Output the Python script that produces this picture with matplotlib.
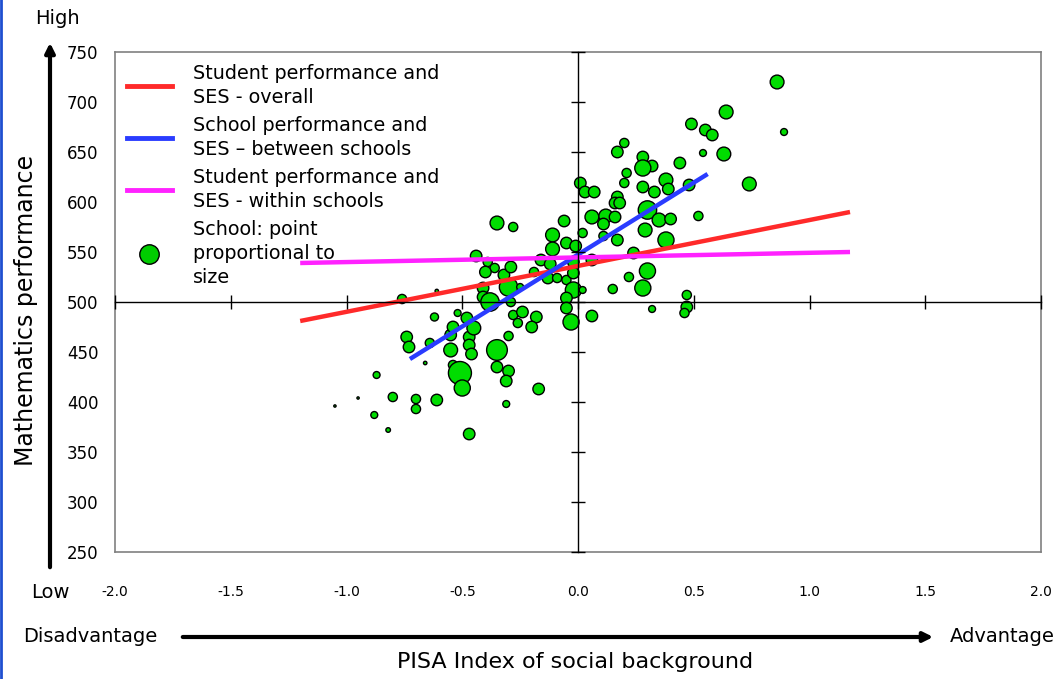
import matplotlib
matplotlib.use("Agg")
import matplotlib.pyplot as plt
from matplotlib.lines import Line2D
from matplotlib.patches import FancyArrowPatch

# ---------------- data ----------------
ses = [-1.05, -0.95, -0.87, -0.88, -0.82, -0.80, -0.70, -0.70, -0.61, -0.66,
       -0.47, -0.74, -0.73, -0.64, -0.55, -0.54, -0.55, -0.47, -0.47, -0.46,
       -0.54, -0.51, -0.50, -0.35, -0.35, -0.30, -0.31, -0.31, -0.17, -0.30,
       -0.52, -0.62, -0.76, -0.61, -0.48, -0.45, -0.44, -0.39, -0.36, -0.40,
       -0.41, -0.41, -0.38, -0.30, -0.25, -0.32, -0.29, -0.29, -0.28, -0.26,
       -0.24, -0.18, -0.20, -0.16, -0.12, -0.13, -0.19, -0.35, -0.28, -0.11,
       -0.11, -0.06, -0.05, -0.01, 0.02, -0.09, -0.05, -0.02, -0.02, 0.02,
       -0.05, -0.05, -0.03, 0.06, 0.01, 0.03, 0.07, 0.06, 0.12, 0.16,
       0.11, 0.17, 0.16, 0.18, 0.20, 0.17, 0.28, 0.32, 0.28, 0.21,
       0.20, 0.28, 0.33, 0.38, 0.39, 0.48, 0.30, 0.35, 0.40, 0.52,
       0.29, 0.11, 0.17, 0.38, 0.24, 0.06, -0.02, 0.30, 0.22, 0.28,
       0.15, 0.47, 0.47, 0.46, 0.32, 0.86, 0.89, 0.64, 0.49, 0.55,
       0.58, 0.54, 0.63, 0.44, 0.74]
maths = [396, 404, 427, 387, 372, 405, 403, 393, 402, 439,
         368, 465, 455, 459, 467, 475, 452, 465, 457, 448,
         437, 429, 414, 452, 435, 431, 421, 398, 413, 466,
         489, 485, 503, 511, 484, 474, 546, 540, 534, 530,
         514, 505, 500, 515, 515, 527, 535, 500, 487, 479,
         490, 485, 475, 542, 538, 524, 530, 579, 575, 567,
         553, 581, 559, 556, 569, 524, 522, 529, 512, 512,
         504, 494, 480, 486, 619, 610, 610, 585, 586, 585,
         578, 605, 599, 599, 659, 650, 645, 636, 634, 629,
         619, 615, 610, 622, 613, 617, 592, 582, 583, 586,
         572, 566, 562, 562, 549, 542, 540, 531, 525, 514,
         513, 507, 495, 489, 493, 720, 670, 690, 678, 672,
         667, 649, 648, 639, 618]
school_size = [1, 1, 3, 3, 2, 4, 4, 4, 5, 1.5,
               5, 5, 5, 4, 5, 5, 6, 5, 5, 5,
               4, 10, 7, 9, 5, 5, 5, 3, 5, 4,
               3, 3.5, 4, 1.5, 5, 6, 5, 4, 4, 5,
               5, 5, 8, 8, 3, 5, 5, 4, 4, 4,
               5, 5, 5, 5, 5, 5, 4, 6, 4, 6,
               6, 5, 5, 5, 4, 4, 4, 5, 7, 3,
               5, 5, 7, 5, 5, 5, 5, 6, 6, 5,
               5, 5, 5, 5, 4, 5, 5, 5, 7, 4,
               4, 5, 5, 6, 5, 5, 8, 6, 5, 4,
               6, 4, 5, 7, 5, 5, 5, 7, 4, 7,
               4, 4, 5, 4, 3, 6, 3, 6, 5, 5,
               5, 3, 6, 5, 6]

# regression lines (endpoints)
overall_x = [-1.20, 1.175]
overall_y = [481, 590]
between_x = [-0.726, 0.56]
between_y = [443, 628]
within_x = [-1.20, 1.175]
within_y = [539, 550]

x_ticks = [-2.0, -1.5, -1.0, -0.5, 0.0, 0.5, 1.0, 1.5, 2.0]
y_ticks = [250, 300, 350, 400, 450, 500, 550, 600, 650, 700, 750]

labels = ["Student performance and\nSES - overall",
          "School performance and\nSES \u2013 between schools",
          "Student performance and\nSES - within schools",
          "School: point\nproportional to\nsize"]

# ---------------- figure ----------------
W, H = 1064, 679
fig = plt.figure(figsize=(W / 100, H / 100), dpi=100)
pos = [115 / W, 1 - 552 / H, (1041 - 115) / W, (552 - 52) / H]
ax = fig.add_axes(pos)
ax.set_xlim(-2, 2)
ax.set_ylim(250, 750)
for sp in ax.spines.values():
    sp.set_color("#808080")
    sp.set_linewidth(1.2)
ax.set_xticks(x_ticks)
ax.set_xticklabels([f"{v:.1f}" for v in x_ticks])
ax.set_yticks(y_ticks)
ax.set_yticklabels([str(v) for v in y_ticks])
ax.tick_params(axis="x", length=0, pad=24, labelsize=10)
ax.tick_params(axis="y", length=0, pad=12, labelsize=12)

# crosshair axes with ticks
ax2 = fig.add_axes(pos, sharex=ax, sharey=ax)
ax2.patch.set_alpha(0)
ax2.spines["top"].set_visible(False)
ax2.spines["right"].set_visible(False)
ax2.spines["left"].set_position(("data", 0))
ax2.spines["bottom"].set_position(("data", 500))
ax2.spines["left"].set_linewidth(1.0)
ax2.spines["bottom"].set_linewidth(1.0)
ax2.tick_params(direction="inout", length=10, width=1.0, labelleft=False,
                labelbottom=False, colors="black")
ax2.set_xticks(x_ticks)
ax2.set_yticks(y_ticks)

# scatter
ax.scatter(ses, maths, s=[(2.3 * r * 0.72) ** 2 for r in school_size],
           c="#00dd00", edgecolors="black", linewidths=1.0, zorder=3)

# lines
ax.plot(overall_x, overall_y, color="#ff2a2a", lw=3.2, zorder=4, solid_capstyle="butt")
ax.plot(between_x, between_y, color="#2a3cff", lw=3.2, zorder=4, solid_capstyle="butt")
ax.plot(within_x, within_y, color="#ff22ff", lw=3.2, zorder=4, solid_capstyle="butt")

handles = [Line2D([], [], color="#ff2a2a", lw=3.5),
           Line2D([], [], color="#2a3cff", lw=3.5),
           Line2D([], [], color="#ff22ff", lw=3.5),
           Line2D([], [], ls="none", marker="o", ms=14, mfc="#00cc00",
                  mec="black", mew=1.0)]
leg = ax.legend(handles, labels, loc="upper left", bbox_to_anchor=(0.0, 1.0),
                frameon=False, fontsize=13.8, handlelength=2.35,
                handletextpad=1.1, labelspacing=0.45, borderaxespad=0.2)
for t in leg.get_texts():
    t.set_linespacing(1.36)
leg.set_zorder(5)

# axis annotations
fig.text(57 / W, 1 - 18 / H, "High", ha="center", va="center", fontsize=14)
fig.text(50 / W, 1 - 592 / H, "Low", ha="center", va="center", fontsize=14)
fig.text(26 / W, 1 - 310 / H, "Mathematics performance", rotation=90,
         ha="center", va="center", fontsize=17)
fig.text(90 / W, 1 - 637 / H, "Disadvantage", ha="center", va="center", fontsize=14)
fig.text(1002 / W, 1 - 637 / H, "Advantage", ha="center", va="center", fontsize=14)
fig.text(575 / W, 1 - 662 / H, "PISA Index of social background",
         ha="center", va="center", fontsize=16)

fig.add_artist(FancyArrowPatch((50 / W, 1 - 570 / H), (50 / W, 1 - 40 / H),
                               transform=fig.transFigure, arrowstyle="-|>",
                               mutation_scale=14, lw=3, color="black"))
fig.add_artist(FancyArrowPatch((180 / W, 1 - 637 / H), (936 / W, 1 - 637 / H),
                               transform=fig.transFigure, arrowstyle="-|>",
                               mutation_scale=14, lw=3, color="black"))
fig.add_artist(Line2D([1 / W, 1 / W], [0, 1], transform=fig.transFigure,
                      color="#1f4fd0", lw=2))

fig.savefig("out.png", dpi=100)
